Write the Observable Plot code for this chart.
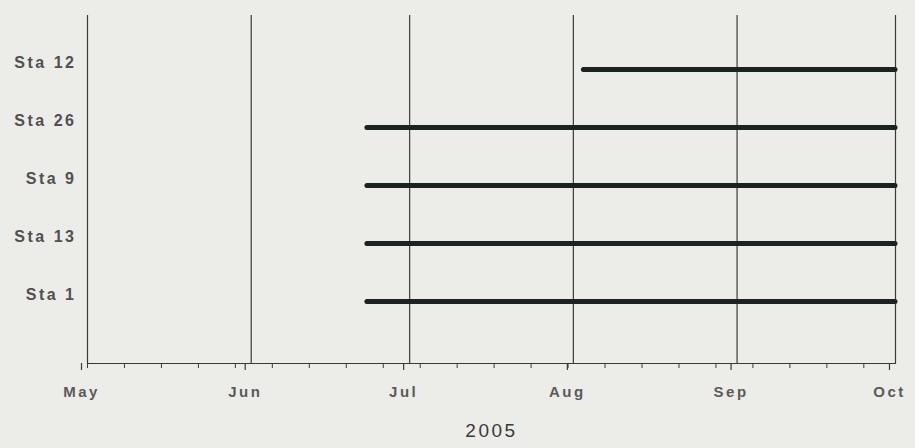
<!DOCTYPE html>
<html><head><meta charset="utf-8">
<script src="https://cdn.jsdelivr.net/npm/d3@7"></script>
<script src="https://cdn.jsdelivr.net/npm/@observablehq/plot@0.6"></script>
<style>
html,body{margin:0;padding:0;background:#ecece9;}
#chart svg{display:block;}
#chart svg text{letter-spacing:2.5px;}
</style></head><body><div id="chart"></div>
<script>
const stations = ["Sta 12", "Sta 26", "Sta 9", "Sta 13", "Sta 1"];
const startDates = ["2005-08-03", "2005-06-23", "2005-06-23", "2005-06-23", "2005-06-23"];
const endDates = ["2005-10-01", "2005-10-01", "2005-10-01", "2005-10-01", "2005-10-01"];
const monthTicks = ["2005-05-01", "2005-06-01", "2005-07-01", "2005-08-01", "2005-09-01", "2005-10-01"];
const monthLabels = ["May", "Jun", "Jul", "Aug", "Sep", "Oct"];
const xTitle = "2005";

const parse = s => new Date(s + "T00:00:00Z");
const rows = stations.map((s, i) => ({station: s, start: parse(startDates[i]), end: parse(endDates[i])}));
const months = monthTicks.map(parse);
const labelOf = new Map(months.map((d, i) => [+d, monthLabels[i]]));
const weeks = d3.utcSunday.range(months[0], months[months.length - 1]);

const chart = Plot.plot({
  width: 915,
  height: 448,
  marginLeft: 87,
  marginRight: 20,
  marginTop: 15,
  marginBottom: 85,
  style: {background: "#ecece9", fontFamily: "'Liberation Sans', Arial, sans-serif", color: "#4a4a4a"},
  x: {type: "utc", domain: [months[0], months[months.length - 1]]},
  y: {type: "point", domain: stations, range: [69, 301], padding: 0},
  marks: [
    Plot.gridX(months, {stroke: "#3a3a3a", strokeOpacity: 1, strokeWidth: 1.2}),
    Plot.frame({anchor: "bottom", stroke: "#3a3a3a", strokeWidth: 1.2}),
    Plot.axisX(weeks, {tickSize: 5, tickFormat: () => "", label: null, stroke: "#3a3a3a", strokeWidth: 1}),
    Plot.axisX(months, {tickSize: 7, tickPadding: 16, tickFormat: d => labelOf.get(+d), label: null, fontSize: 15, fontWeight: "bold", dx: -6, fill: "#5a5a5a", stroke: "#3a3a3a", strokeWidth: 1.2}),
    Plot.axisY({tickSize: 0, tickPadding: 11, dy: -7, fontSize: 16, fontWeight: "bold", label: null, fill: "#505050"}),
    Plot.ruleY(rows, {y: "station", x1: "start", x2: "end", stroke: "#1b2222", strokeWidth: 5, strokeLinecap: "round"}),
    Plot.text([xTitle], {frameAnchor: "bottom", dy: 73, fontSize: 19, fill: "#3a3a3a", letterSpacing: 4})
  ]
});
document.getElementById("chart").append(chart);
</script>
</body></html>
